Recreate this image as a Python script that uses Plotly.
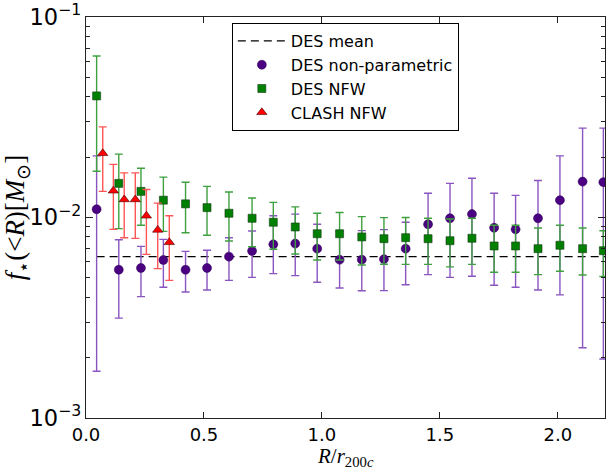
import plotly.graph_objects as go

# ---- data ----
R_des = [0.045, 0.139, 0.233, 0.328, 0.422, 0.513, 0.606, 0.704, 0.794, 0.887, 0.980, 1.075,
         1.169, 1.263, 1.355, 1.450, 1.543, 1.636, 1.730, 1.821, 1.916, 2.009, 2.105, 2.193]

np_val = [0.0110, 0.00549, 0.00560, 0.00614, 0.00549, 0.00560, 0.00638, 0.00681, 0.00735, 0.00741,
          0.00699, 0.00616, 0.00616, 0.00620, 0.00699, 0.00925, 0.00991, 0.0104, 0.00889, 0.00873,
          0.00991, 0.0122, 0.0151, 0.0150]
np_hi = [0.0203, 0.00775, 0.00718, 0.00778, 0.00678, 0.00686, 0.00793, 0.00857, 0.0102, 0.0104,
         0.00925, 0.0085, 0.0086, 0.0087, 0.00947, 0.0132, 0.0148, 0.0157, 0.0132, 0.0129,
         0.0153, 0.0203, 0.0279, 0.0279]
np_lo = [0.00171, 0.00315, 0.00403, 0.00449, 0.00425, 0.00435, 0.00486, 0.00503, 0.00525, 0.00513,
         0.00475, 0.00445, 0.00431, 0.00432, 0.00462, 0.00519, 0.00503, 0.00509, 0.00459, 0.00449,
         0.00435, 0.00411, 0.00224, 0.00197]

nfw_val = [0.0404, 0.0148, 0.0135, 0.0122, 0.0117, 0.0112, 0.0105, 0.00991, 0.00947, 0.00897,
           0.00830, 0.00830, 0.00800, 0.00784, 0.00793, 0.00784, 0.00766, 0.00788, 0.00721, 0.00721,
           0.00699, 0.00727, 0.00699, 0.00683]
nfw_hi = [0.0639, 0.0207, 0.0176, 0.0159, 0.0150, 0.0143, 0.0134, 0.0125, 0.0119, 0.0113,
          0.0105, 0.0106, 0.0101, 0.00998, 0.0100, 0.00991, 0.00983, 0.00991, 0.00915, 0.00915,
          0.00887, 0.00915, 0.00887, 0.00859]
nfw_lo = [0.0170, 0.00880, 0.00915, 0.00853, 0.00840, 0.00815, 0.00764, 0.00715, 0.00694, 0.00658,
          0.00614, 0.00614, 0.00580, 0.00585, 0.00584, 0.00584, 0.00567, 0.00584, 0.00533, 0.00533,
          0.00519, 0.00539, 0.00517, 0.00508]

R_clash = [0.071, 0.116, 0.162, 0.209, 0.256, 0.304, 0.353]
clash_val = [0.0209, 0.0136, 0.0123, 0.0123, 0.0102, 0.00867, 0.00752]
clash_hi = [0.0283, 0.0184, 0.0167, 0.0167, 0.0138, 0.0118, 0.0102]
clash_lo = [0.0135, 0.00873, 0.00793, 0.00787, 0.00655, 0.00556, 0.00486]

des_mean = 0.00638
x_range = [0.0, 2.2]

fig = go.Figure()

def err(v, hi, lo):
    return [h - a for a, h in zip(v, hi)], [a - l for a, l in zip(v, lo)]

fig.add_trace(go.Scatter(
    x=[R_des[0], x_range[1]], y=[des_mean, des_mean], mode="lines",
    line=dict(color="black", dash="8px,5px", width=1.3),
    name="DES mean", legendrank=1, legendgroup="a"))

up, dn = err(np_val, np_hi, np_lo)
fig.add_trace(go.Scatter(
    x=R_des, y=np_val, mode="markers", name="DES non-parametric", legendrank=2, legendgroup="b",
    marker=dict(symbol="circle", size=9, color="#4B0082", line=dict(color="#2a0050", width=0.5)),
    error_y=dict(type="data", array=up, arrayminus=dn, color="#8a55c0", thickness=1.4, width=4)))

up, dn = err(nfw_val, nfw_hi, nfw_lo)
fig.add_trace(go.Scatter(
    x=R_des, y=nfw_val, mode="markers", name="DES NFW", legendrank=3, legendgroup="c",
    marker=dict(symbol="square", size=8, color="#008000", line=dict(color="#1a3a1a", width=0.6)),
    error_y=dict(type="data", array=up, arrayminus=dn, color="#3fa03f", thickness=1.4, width=4)))

up, dn = err(clash_val, clash_hi, clash_lo)
fig.add_trace(go.Scatter(
    x=R_clash, y=clash_val, mode="markers", name="CLASH NFW", legendrank=4, legendgroup="d",
    marker=dict(symbol="triangle-up", size=9, color="#ff0000", line=dict(color="#400000", width=0.6)),
    error_y=dict(type="data", array=up, arrayminus=dn, color="#ff5555", thickness=1.4, width=4)))

axis_common = dict(showline=True, linecolor="#222", linewidth=1.2, mirror="ticks",
                   ticks="inside", tickcolor="#222", showgrid=False, zeroline=False,
                   automargin=False,
                   tickfont=dict(family="DejaVu Sans", size=18, color="black"))

fig.update_xaxes(range=x_range, dtick=0.5, tick0=0, tickformat=".1f", ticklen=6,
                 **axis_common)
fig.update_yaxes(type="log", range=[-3, -1], dtick=1, exponentformat="power", ticklen=7,
                 minor=dict(ticks="inside", ticklen=4, tickcolor="#222", showgrid=False),
                 title=dict(text="<i>f</i><sub>⋆</sub>(&lt;<i>R</i>)[<i>M</i><sub>⊙</sub>]",
                            font=dict(family="Liberation Serif", size=27, color="black"), standoff=6),
                 **axis_common)

fig.add_annotation(text="<i>R</i>/<i>r</i><sub>200<i>c</i></sub>", xref="paper", yref="paper",
                   x=0.5, y=-0.062, xanchor="center", yanchor="top", showarrow=False,
                   borderpad=0,
                   font=dict(family="Liberation Serif", size=21, color="black"))

fig.update_layout(
    width=608, height=470,
    margin=dict(l=86, r=3, t=17, b=52),
    plot_bgcolor="white", paper_bgcolor="white",
    showlegend=True,
    legend=dict(x=0.281, y=0.985, xanchor="left", yanchor="top",
                bgcolor="white", bordercolor="black", borderwidth=1,
                font=dict(family="DejaVu Sans", size=16, color="black"),
                itemwidth=48, tracegroupgap=0, traceorder="grouped"),
)

fig.write_html("out.html")
